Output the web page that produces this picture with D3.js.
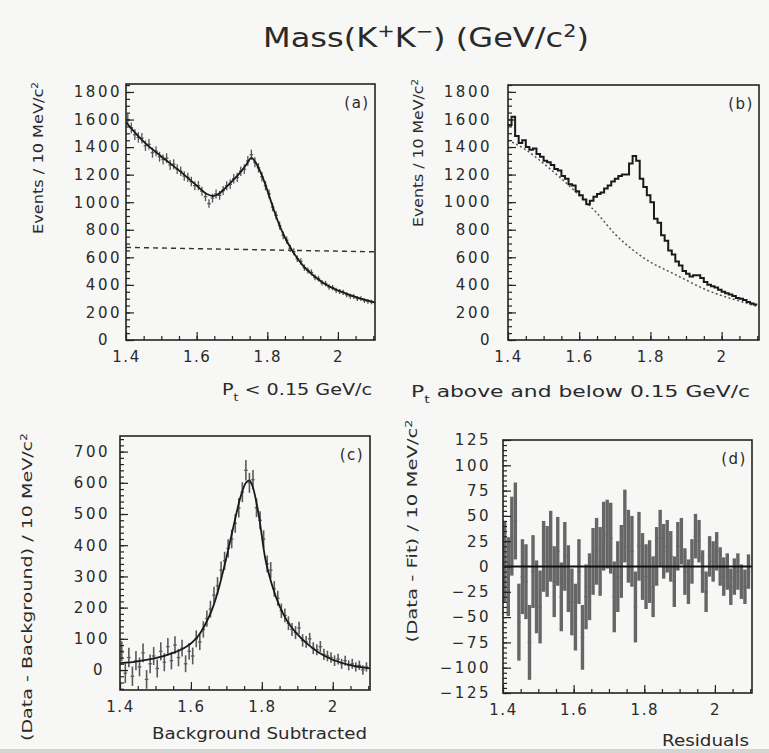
<!DOCTYPE html>
<html lang="en">
<head>
<meta charset="UTF-8">
<title>Mass(K+K-)</title>
<script src="https://d3js.org/d3.v7.min.js"></script>
<style>
  body { margin: 0; background: #f7f7f5; }
  svg { display: block; }
  text { font-family: "DejaVu Sans", sans-serif; fill: #2a2a2a; }
</style>
</head>
<body>
<div id="wrapper"></div>
<script>
// 10 MeV bins from 1.40 to 2.10 GeV
const binLow = 1.40, binWidth = 0.01;
const massBins = d3.range(70).map(i => +(binLow + binWidth * (i + 0.5)).toFixed(3));

// x ticks (shared)
const xMajor = [1.4, 1.6, 1.8, 2.0];
const xMinor = d3.range(1.45, 2.101, 0.05);

// (a) Pt < 0.15 : data, errors, fit, background
const dataA = [1600,1540,1490,1470,1465,1410,1420,1360,1370,1330,
               1310,1320,1270,1275,1240,1225,1190,1180,1150,1120,
               1120,1080,1040,990,1030,1060,1050,1085,1120,1130,
               1170,1180,1225,1240,1300,1345,1290,1250,1185,1120,
               1060,965,905,830,760,725,665,640,590,570,
               525,505,490,455,445,415,410,385,380,360,
               352,345,328,318,315,300,300,286,280,276];
const errA = [40,39,39,38,38,38,38,37,37,36,
              36,36,36,36,35,35,34,34,34,33,
              33,33,32,31,32,33,32,33,33,34,
              34,34,35,35,36,37,36,35,34,33,
              33,31,30,29,28,27,26,25,24,24,
              23,22,22,21,21,20,20,20,19,19,
              19,19,18,18,18,17,17,17,17,17];
const fitMassA = [1.40,1.45,1.50,1.55,1.60,1.63,1.645,1.66,1.68,1.70,1.72,1.74,1.755,1.77,1.79,1.81,1.83,1.85,1.87,1.90,1.93,1.96,2.00,2.05,2.105];
const fitA = [1580,1440,1332,1231,1121,1058,1045,1056,1100,1152,1206,1270,1322,1275,1160,1010,862,744,652,544,470,412,360,313,272];
const bgMassA = [1.40, 2.105];
const bgA = [672, 640];

// (b) Pt above and below 0.15 : histogram + background
const histB = [1560,1620,1480,1430,1450,1400,1380,1390,1350,1330,
               1300,1290,1270,1240,1230,1190,1170,1130,1120,1080,
               1050,1020,985,1010,1040,1060,1070,1100,1120,1150,
               1170,1190,1200,1200,1280,1335,1300,1170,1110,1050,
               1000,880,850,760,720,650,620,570,540,500,
               480,460,470,470,450,420,400,390,380,365,
               350,340,330,320,305,300,290,275,265,258];
const bgMassB = [1.40,1.45,1.50,1.55,1.60,1.625,1.65,1.70,1.75,1.80,1.85,1.90,1.95,2.00,2.05,2.105];
const bgB = [1450,1380,1280,1170,1050,985,920,770,655,565,500,435,372,322,283,240];

// (c) background subtracted
const dataC = [60,-10,40,-20,30,10,55,-30,20,45,
               5,60,25,75,30,80,40,70,20,60,
               45,100,90,130,165,195,240,270,320,350,
               390,420,470,520,570,640,600,610,520,480,
               420,340,320,260,230,190,175,150,130,120,
               135,95,90,100,70,65,75,50,45,40,
               30,35,20,30,15,20,10,15,0,10];
const errC = [32,32,31,31,31,30,30,30,30,29,
              29,29,29,28,28,28,28,27,27,27,
              27,27,26,26,26,27,27,28,28,29,
              29,30,30,31,32,33,32,31,30,29,
              28,27,26,25,24,23,22,22,21,21,
              20,20,19,19,19,18,18,18,17,17,
              17,17,16,16,16,16,15,15,15,15];
const fitMassC = [1.40,1.45,1.50,1.55,1.58,1.60,1.62,1.64,1.66,1.68,1.70,1.72,1.74,1.755,1.765,1.775,1.79,1.81,1.83,1.85,1.87,1.90,1.93,1.96,2.00,2.05,2.105];
const fitC = [22,28,38,55,70,85,108,145,195,268,360,460,555,600,608,585,505,355,268,205,160,115,82,56,33,16,5];

// (d) residuals
const residD = [5,-10,30,45,-55,-10,-15,-75,-5,-30,
                -40,10,5,20,-15,15,-30,10,-12,-35,
                -50,-5,-70,-30,-20,5,15,5,30,32,
                28,-30,-10,5,40,20,15,-40,20,0,
                -10,-5,-20,10,28,15,20,10,-15,20,
                25,-5,-15,5,30,25,-5,-25,10,5,
                15,0,-10,-5,-20,-10,-5,-15,-20,-5];
const errD = [40,39,39,38,38,37,37,37,36,36,
              36,35,35,35,35,34,34,34,33,33,
              33,32,32,32,33,33,33,34,34,34,
              35,35,35,36,36,36,35,35,34,33,
              32,31,30,29,28,27,26,25,25,24,
              23,23,22,22,22,21,21,20,20,20,
              19,19,19,18,18,18,18,17,17,17];

const W = 769, H = 753;
const xDomain = [1.40, 2.105];

const svg = d3.select("#wrapper").append("svg")
  .attr("width", W).attr("height", H);
svg.append("rect").attr("width", W).attr("height", H).attr("fill", "#f7f7f5");
svg.append("rect").attr("x", 0).attr("y", 749).attr("width", W).attr("height", 4).attr("fill", "#d4d4d2");

// small helper for super/subscripts
function rich(text, parts) {
  parts.forEach(([s, kind]) => {
    const t = text.append("tspan").text(s);
    if (kind === "sup") t.attr("baseline-shift", "super").attr("font-size", "65%");
    if (kind === "sub") t.attr("baseline-shift", "sub").attr("font-size", "65%");
  });
  return text;
}

function makePanel(id, box, yDomain, yMajor, yMinor, yPad, zeroShift) {
  const g = svg.append("g");
  const x = d3.scaleLinear().domain(xDomain).range([box.left, box.right]);
  const y = d3.scaleLinear().domain(yDomain).range([box.bottom, box.top]);
  svg.append("clipPath").attr("id", "clip-" + id)
    .append("rect").attr("x", box.left).attr("y", box.top)
    .attr("width", box.right - box.left).attr("height", box.bottom - box.top);
  const plot = g.append("g").attr("clip-path", `url(#clip-${id})`);

  const axes = () => {
    // minor / major ticks pointing into the frame
    const xm = g.append("g").attr("transform", `translate(0,${box.bottom})`)
      .call(d3.axisBottom(x).tickValues(xMinor).tickSize(-4).tickFormat(""));
    const xM = g.append("g").attr("transform", `translate(0,${box.bottom})`)
      .call(d3.axisBottom(x).tickValues(xMajor).tickSize(-8).tickPadding(11).tickFormat(d3.format("~g")));
    const ym = g.append("g").attr("transform", `translate(${box.left},0)`)
      .call(d3.axisLeft(y).tickValues(yMinor).tickSize(-4).tickFormat(""));
    const yM = g.append("g").attr("transform", `translate(${box.left},0)`)
      .call(d3.axisLeft(y).tickValues(yMajor).tickSize(-8).tickPadding(yPad).tickFormat(d3.format("d")));
    [xm, xM, ym, yM].forEach(a => {
      a.select(".domain").remove();
      a.attr("color", "#222").attr("font-size", 15).attr("font-family", null);
      a.selectAll("line").attr("stroke-width", 1.2);
    });
    xM.selectAll("text").attr("letter-spacing", 1.5);
    yM.selectAll("text").attr("letter-spacing", 2.5);
    if (zeroShift) yM.selectAll("text").filter(d => d === 0).attr("dx", -zeroShift);
    g.append("rect")
      .attr("x", box.left).attr("y", box.top)
      .attr("width", box.right - box.left).attr("height", box.bottom - box.top)
      .attr("fill", "none").attr("stroke", "#222").attr("stroke-width", 1.6);
    g.append("text")
      .attr("x", box.right - 18).attr("y", box.top + 24)
      .attr("text-anchor", "middle").attr("font-size", 15).attr("letter-spacing", 1.5)
      .text(`(${id})`);
  };
  return { g, plot, x, y, axes };
}

const fitLine = (p, ms, vs) => d3.line().curve(d3.curveMonotoneX)
  .x((d, i) => p.x(ms[i])).y(d => p.y(d))(vs);

function errorBars(p, vals, errs, color, width) {
  const hw = (p.x(binWidth) - p.x(0)) / 2;
  const grp = p.plot.append("g").attr("stroke", color).attr("stroke-width", width);
  grp.selectAll(".ev").data(vals).join("line")
    .attr("x1", (d, i) => p.x(massBins[i])).attr("x2", (d, i) => p.x(massBins[i]))
    .attr("y1", (d, i) => p.y(d - errs[i])).attr("y2", (d, i) => p.y(d + errs[i]));
  grp.selectAll(".eh").data(vals).join("line")
    .attr("stroke-width", 1.3)
    .attr("x1", (d, i) => p.x(massBins[i]) - hw).attr("x2", (d, i) => p.x(massBins[i]) + hw)
    .attr("y1", d => p.y(d)).attr("y2", d => p.y(d));
}

// ---------- (a)
const pa = makePanel("a", {left: 126, top: 84, right: 375, bottom: 340},
  [0, 1858], d3.range(0, 1801, 200), d3.range(0, 1851, 50), 4, 12);
pa.plot.append("path").attr("d", fitLine(pa, bgMassA, bgA))
  .attr("fill", "none").attr("stroke", "#333").attr("stroke-width", 1.4).attr("stroke-dasharray", "5,4");
errorBars(pa, dataA, errA, "#555", 1.3);
pa.plot.append("path").attr("d", fitLine(pa, fitMassA, fitA))
  .attr("fill", "none").attr("stroke", "#1a1a1a").attr("stroke-width", 1.8);
pa.axes();

// ---------- (b)
const pb = makePanel("b", {left: 508, top: 85, right: 759, bottom: 340},
  [0, 1850], d3.range(0, 1801, 200), d3.range(0, 1851, 50), 16, 0);
pb.plot.append("path").attr("d", fitLine(pb, bgMassB, bgB))
  .attr("fill", "none").attr("stroke", "#555").attr("stroke-width", 1.5).attr("stroke-dasharray", "2,2.5");
const stepPts = histB.flatMap((v, i) => [[massBins[i] - binWidth / 2, v], [massBins[i] + binWidth / 2, v]]);
pb.plot.append("path")
  .attr("d", d3.line().x(d => pb.x(d[0])).y(d => pb.y(d[1]))(stepPts))
  .attr("fill", "none").attr("stroke", "#1a1a1a").attr("stroke-width", 2);
pb.axes();

// ---------- (c)
const pc = makePanel("c", {left: 120, top: 436, right: 370, bottom: 690},
  [-64, 750], d3.range(0, 701, 100), d3.range(-60, 741, 20), 10, 5);
errorBars(pc, dataC, errC, "#5a5a5a", 1.6);
pc.plot.append("path").attr("d", fitLine(pc, fitMassC, fitC))
  .attr("fill", "none").attr("stroke", "#1a1a1a").attr("stroke-width", 1.8);
pc.axes();

// ---------- (d)
const pd = makePanel("d", {left: 503, top: 440, right: 752, bottom: 693},
  [-125, 125], d3.range(-125, 126, 25), d3.range(-125, 126, 5), 12, 0);
errorBars(pd, residD, errD, "#666", 3.4);
pd.plot.append("line")
  .attr("x1", pd.x(xDomain[0])).attr("x2", pd.x(xDomain[1]))
  .attr("y1", pd.y(0)).attr("y2", pd.y(0))
  .attr("stroke", "#111").attr("stroke-width", 1.8);
pd.axes();

// ---------- titles
rich(svg.append("text").attr("x", 426).attr("y", 47).attr("text-anchor", "middle")
  .attr("font-size", 26).attr("textLength", 326).attr("lengthAdjust", "spacingAndGlyphs"),
  [["Mass(K"], ["+", "sup"], ["K"], ["\u2212", "sup"], [")  (GeV/c"], ["2", "sup"], [")"]]);

function yTitle(cx, cy, len, parts) {
  rich(svg.append("text")
    .attr("transform", `translate(${cx},${cy}) rotate(-90)`)
    .attr("dy", "0.35em").attr("text-anchor", "middle").attr("font-size", 14)
    .attr("textLength", len).attr("lengthAdjust", "spacingAndGlyphs"), parts);
}
function xTitle(x1, x2, yb, parts) {
  rich(svg.append("text").attr("x", (x1 + x2) / 2).attr("y", yb)
    .attr("text-anchor", "middle").attr("font-size", 15)
    .attr("textLength", x2 - x1).attr("lengthAdjust", "spacingAndGlyphs"), parts);
}

yTitle(38, 158, 152, [["Events / 10 MeV/c"], ["2", "sup"]]);
yTitle(418, 153, 148, [["Events / 10 MeV/c"], ["2", "sup"]]);
yTitle(27, 587, 308, [["(Data - Background) / 10 MeV/c"], ["2", "sup"]]);
yTitle(412, 531, 223, [["(Data - Fit) / 10 MeV/c"], ["2", "sup"]]);

xTitle(222, 372, 395, [["P"], ["t", "sub"], [" < 0.15 GeV/c"]]);
xTitle(411, 750, 397, [["P"], ["t", "sub"], [" above and below 0.15 GeV/c"]]);
xTitle(152, 367, 739, [["Background Subtracted"]]);
xTitle(662, 749, 746, [["Residuals"]]);
</script>
</body>
</html>
